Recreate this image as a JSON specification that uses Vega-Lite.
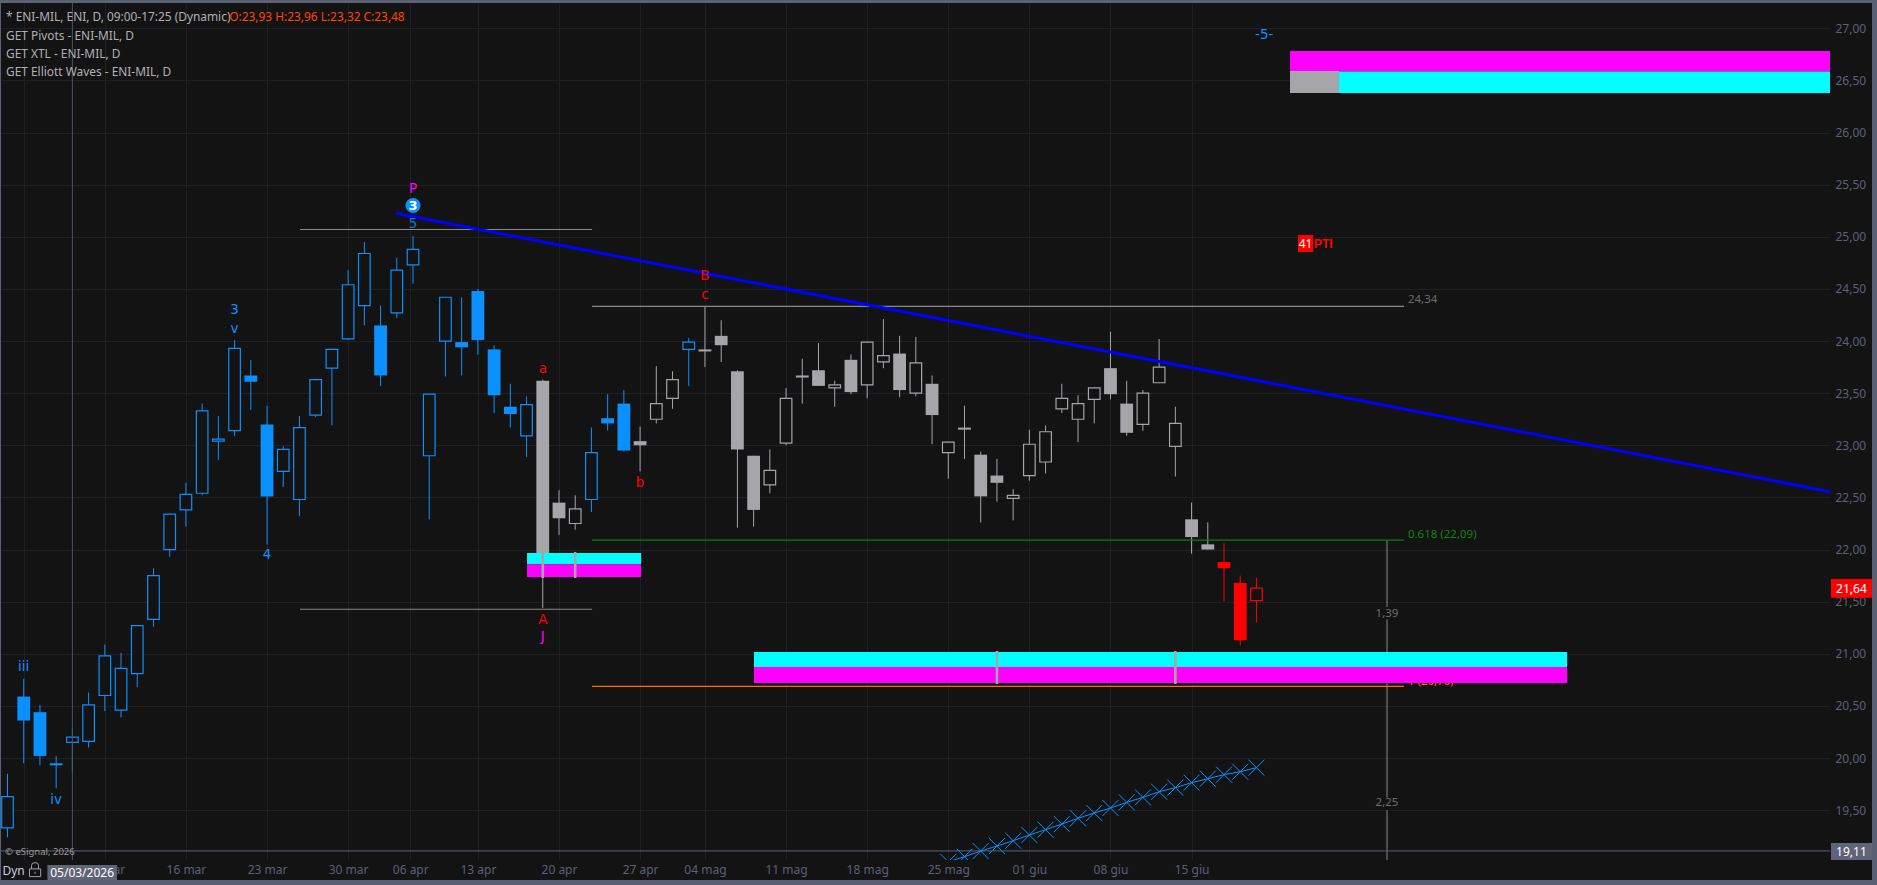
{
"$schema":"https://vega.github.io/schema/vega-lite/v6.json",
"width":1830,"height":857,
"autosize":{"type":"none"},
"padding":{"left":0,"top":3,"right":47,"bottom":25},
"background":"#131313",
"view":{"stroke":null,"fill":"#131313"},
"config":{"text":{"font":"Noto Sans"}},
"resolve":{"scale":{"color":"independent","stroke":"independent"}},
"datasets":{
"candles":[
{"bar":0,"series":"blue","filled":false,"high":19.85,"low":19.24,"top":19.63,"bottom":19.33},
{"bar":1,"series":"blue","filled":true,"high":20.76,"low":19.95,"top":20.59,"bottom":20.36},
{"bar":2,"series":"blue","filled":true,"high":20.51,"low":19.93,"top":20.44,"bottom":20.02},
{"bar":3,"series":"blue","filled":true,"high":20.02,"low":19.71,"top":19.95,"bottom":19.93},
{"bar":4,"series":"blue","filled":false,"high":20.28,"low":19.87,"top":20.20,"bottom":20.15},
{"bar":5,"series":"blue","filled":false,"high":20.63,"low":20.10,"top":20.51,"bottom":20.16},
{"bar":6,"series":"blue","filled":false,"high":21.09,"low":20.45,"top":20.98,"bottom":20.60},
{"bar":7,"series":"blue","filled":false,"high":21.01,"low":20.39,"top":20.86,"bottom":20.46},
{"bar":8,"series":"blue","filled":false,"high":21.27,"low":20.68,"top":21.27,"bottom":20.81},
{"bar":9,"series":"blue","filled":false,"high":21.82,"low":21.26,"top":21.75,"bottom":21.33},
{"bar":10,"series":"blue","filled":false,"high":22.34,"low":21.93,"top":22.34,"bottom":22.00},
{"bar":11,"series":"blue","filled":false,"high":22.64,"low":22.22,"top":22.53,"bottom":22.38},
{"bar":12,"series":"blue","filled":false,"high":23.40,"low":22.52,"top":23.33,"bottom":22.54},
{"bar":13,"series":"blue","filled":false,"high":23.28,"low":22.86,"top":23.06,"bottom":23.04},
{"bar":14,"series":"blue","filled":false,"high":24.01,"low":23.09,"top":23.93,"bottom":23.14},
{"bar":15,"series":"blue","filled":true,"high":23.82,"low":23.34,"top":23.67,"bottom":23.61},
{"bar":16,"series":"blue","filled":true,"high":23.38,"low":22.05,"top":23.20,"bottom":22.51},
{"bar":17,"series":"blue","filled":false,"high":22.99,"low":22.60,"top":22.96,"bottom":22.75},
{"bar":18,"series":"blue","filled":false,"high":23.28,"low":22.32,"top":23.17,"bottom":22.48},
{"bar":19,"series":"blue","filled":false,"high":23.64,"low":23.27,"top":23.63,"bottom":23.29},
{"bar":20,"series":"blue","filled":false,"high":23.92,"low":23.19,"top":23.92,"bottom":23.74},
{"bar":21,"series":"blue","filled":false,"high":24.68,"low":24.01,"top":24.54,"bottom":24.02},
{"bar":22,"series":"blue","filled":false,"high":24.95,"low":24.15,"top":24.84,"bottom":24.34},
{"bar":23,"series":"blue","filled":true,"high":24.34,"low":23.57,"top":24.15,"bottom":23.67},
{"bar":24,"series":"blue","filled":false,"high":24.80,"low":24.22,"top":24.68,"bottom":24.27},
{"bar":25,"series":"blue","filled":false,"high":25.01,"low":24.55,"top":24.88,"bottom":24.73},
{"bar":26,"series":"blue","filled":false,"high":23.49,"low":22.29,"top":23.49,"bottom":22.90},
{"bar":27,"series":"blue","filled":false,"high":24.42,"low":23.66,"top":24.42,"bottom":24.00},
{"bar":28,"series":"blue","filled":true,"high":24.42,"low":23.67,"top":23.99,"bottom":23.94},
{"bar":29,"series":"blue","filled":true,"high":24.50,"low":23.87,"top":24.48,"bottom":24.01},
{"bar":30,"series":"blue","filled":true,"high":23.96,"low":23.31,"top":23.92,"bottom":23.48},
{"bar":31,"series":"blue","filled":true,"high":23.59,"low":23.17,"top":23.37,"bottom":23.30},
{"bar":32,"series":"blue","filled":false,"high":23.47,"low":22.89,"top":23.39,"bottom":23.09},
{"bar":33,"series":"gray","filled":true,"high":23.63,"low":21.44,"top":23.62,"bottom":21.96},
{"bar":34,"series":"gray","filled":true,"high":22.57,"low":22.14,"top":22.45,"bottom":22.30},
{"bar":35,"series":"gray","filled":false,"high":22.52,"low":22.19,"top":22.39,"bottom":22.25},
{"bar":36,"series":"blue","filled":false,"high":23.17,"low":22.36,"top":22.93,"bottom":22.48},
{"bar":37,"series":"blue","filled":true,"high":23.49,"low":23.14,"top":23.26,"bottom":23.21},
{"bar":38,"series":"blue","filled":true,"high":23.53,"low":22.94,"top":23.40,"bottom":22.95},
{"bar":39,"series":"gray","filled":true,"high":23.18,"low":22.75,"top":23.04,"bottom":23.00},
{"bar":40,"series":"gray","filled":false,"high":23.76,"low":23.21,"top":23.40,"bottom":23.25},
{"bar":41,"series":"gray","filled":false,"high":23.71,"low":23.35,"top":23.63,"bottom":23.45},
{"bar":42,"series":"blue","filled":false,"high":24.03,"low":23.57,"top":23.99,"bottom":23.92},
{"bar":43,"series":"gray","filled":true,"high":24.33,"low":23.75,"top":23.92,"bottom":23.90},
{"bar":44,"series":"gray","filled":true,"high":24.20,"low":23.80,"top":24.05,"bottom":23.96},
{"bar":45,"series":"gray","filled":true,"high":23.72,"low":22.21,"top":23.71,"bottom":22.96},
{"bar":46,"series":"gray","filled":true,"high":22.90,"low":22.22,"top":22.90,"bottom":22.38},
{"bar":47,"series":"gray","filled":false,"high":22.96,"low":22.54,"top":22.76,"bottom":22.62},
{"bar":48,"series":"gray","filled":false,"high":23.55,"low":23.00,"top":23.45,"bottom":23.02},
{"bar":49,"series":"gray","filled":true,"high":23.83,"low":23.40,"top":23.67,"bottom":23.65},
{"bar":50,"series":"gray","filled":true,"high":23.98,"low":23.57,"top":23.72,"bottom":23.57},
{"bar":51,"series":"gray","filled":false,"high":23.62,"low":23.37,"top":23.58,"bottom":23.55},
{"bar":52,"series":"gray","filled":true,"high":23.87,"low":23.49,"top":23.82,"bottom":23.51},
{"bar":53,"series":"gray","filled":false,"high":23.99,"low":23.45,"top":23.99,"bottom":23.58},
{"bar":54,"series":"gray","filled":false,"high":24.21,"low":23.74,"top":23.86,"bottom":23.80},
{"bar":55,"series":"gray","filled":true,"high":24.05,"low":23.46,"top":23.88,"bottom":23.53},
{"bar":56,"series":"gray","filled":false,"high":24.04,"low":23.47,"top":23.79,"bottom":23.50},
{"bar":57,"series":"gray","filled":true,"high":23.67,"low":23.01,"top":23.59,"bottom":23.29},
{"bar":58,"series":"gray","filled":false,"high":23.03,"low":22.68,"top":23.03,"bottom":22.93},
{"bar":59,"series":"gray","filled":true,"high":23.38,"low":22.87,"top":23.17,"bottom":23.15},
{"bar":60,"series":"gray","filled":true,"high":22.94,"low":22.26,"top":22.91,"bottom":22.51},
{"bar":61,"series":"gray","filled":true,"high":22.87,"low":22.46,"top":22.71,"bottom":22.64},
{"bar":62,"series":"gray","filled":false,"high":22.58,"low":22.28,"top":22.52,"bottom":22.49},
{"bar":63,"series":"gray","filled":false,"high":23.15,"low":22.66,"top":23.01,"bottom":22.71},
{"bar":64,"series":"gray","filled":false,"high":23.19,"low":22.73,"top":23.13,"bottom":22.84},
{"bar":65,"series":"gray","filled":false,"high":23.59,"low":23.31,"top":23.45,"bottom":23.35},
{"bar":66,"series":"gray","filled":false,"high":23.48,"low":23.03,"top":23.40,"bottom":23.25},
{"bar":67,"series":"gray","filled":false,"high":23.55,"low":23.21,"top":23.55,"bottom":23.44},
{"bar":68,"series":"gray","filled":true,"high":24.09,"low":23.44,"top":23.74,"bottom":23.49},
{"bar":69,"series":"gray","filled":true,"high":23.62,"low":23.09,"top":23.40,"bottom":23.12},
{"bar":70,"series":"gray","filled":false,"high":23.53,"low":23.14,"top":23.50,"bottom":23.20},
{"bar":71,"series":"gray","filled":false,"high":24.02,"low":23.60,"top":23.75,"bottom":23.60},
{"bar":72,"series":"gray","filled":false,"high":23.37,"low":22.70,"top":23.21,"bottom":22.99},
{"bar":73,"series":"gray","filled":true,"high":22.45,"low":21.96,"top":22.29,"bottom":22.12},
{"bar":74,"series":"gray","filled":true,"high":22.26,"low":22.00,"top":22.05,"bottom":22.00},
{"bar":75,"series":"red","filled":true,"high":22.06,"low":21.50,"top":21.88,"bottom":21.82},
{"bar":76,"series":"red","filled":true,"high":21.75,"low":21.08,"top":21.68,"bottom":21.13},
{"bar":77,"series":"red","filled":false,"high":21.73,"low":21.30,"top":21.63,"bottom":21.51}
],
"hlines":[
{"from":-0.4624,"to":112.36,"price":19.11,"kind":"cross"},
{"from":18.03,"to":36.04,"price":25.07,"kind":"pivot"},
{"from":18.03,"to":36.04,"price":21.427,"kind":"pivot"},
{"from":36.04,"to":86.1,"price":24.333,"kind":"pivot"},
{"from":36.04,"to":86.1,"price":22.09,"kind":"green"},
{"from":36.04,"to":86.1,"price":20.688,"kind":"orange"}
],
"vlines":[
{"bar":4,"from":27.2427,"to":19.0221,"kind":"cross"},
{"bar":85.05,"from":22.09,"to":21.45,"kind":"pivot"},
{"bar":85.05,"from":21.33,"to":19.62,"kind":"pivot"},
{"bar":85.05,"from":19.50,"to":19.0221,"kind":"pivot"}
],
"zones":[
{"from":32.03,"to":39.06,"top":21.967,"bottom":21.86,"kind":"cyan"},
{"from":32.03,"to":39.06,"top":21.86,"bottom":21.737,"kind":"magenta"},
{"from":46.02,"to":96.15,"top":21.017,"bottom":20.873,"kind":"cyan"},
{"from":46.02,"to":96.15,"top":20.873,"bottom":20.72,"kind":"magenta"},
{"from":79.07,"to":112.36,"top":26.782,"bottom":26.586,"kind":"magenta"},
{"from":79.07,"to":112.36,"top":26.586,"bottom":26.379,"kind":"cyan"},
{"from":79.07,"to":82.09,"top":26.59,"bottom":26.379,"kind":"gray"}
],
"zoneticks":[
{"bar":33,"top":21.977,"bottom":21.727},
{"bar":35,"top":21.977,"bottom":21.727},
{"bar":61,"top":21.027,"bottom":20.71},
{"bar":72,"top":21.027,"bottom":20.71}
],
"trend":[{"bar":23.95,"price":25.225},{"bar":112.36,"price":22.555}],
"xline":[
{"bar":58,"price":19.005},{"bar":59,"price":19.054},{"bar":60,"price":19.108},{"bar":61,"price":19.156},{"bar":62,"price":19.207},{"bar":63,"price":19.262},{"bar":64,"price":19.313},{"bar":65,"price":19.367},{"bar":66,"price":19.422},{"bar":67,"price":19.473},{"bar":68,"price":19.521},{"bar":69,"price":19.575},{"bar":70,"price":19.623},{"bar":71,"price":19.677},{"bar":72,"price":19.716},{"bar":73,"price":19.764},{"bar":74,"price":19.802},{"bar":75,"price":19.841},{"bar":76,"price":19.869},{"bar":77,"price":19.908}
],
"under":[
{"bar":86.34,"price":24.396,"label":"24,34","kind":"note"},
{"bar":86.34,"price":22.14,"label":"0.618 (22,09)","kind":"green"},
{"bar":86.34,"price":20.732,"label":"1 (20,70)","kind":"orange"}
],
"measure":[
{"bar":85.05,"price":21.38,"label":"1,39"},
{"bar":85.05,"price":19.57,"label":"2,25"}
],
"legend":[
{"bar":-0.09,"price":27.108,"label":"* ENI-MIL, ENI, D, 09:00-17:25 (Dynamic)","kind":"legend"},
{"bar":13.67,"price":27.108,"label":"O:23,93 H:23,96 L:23,32 C:23,48","kind":"ohlc"},
{"bar":-0.09,"price":26.926,"label":"GET Pivots - ENI-MIL, D","kind":"legend"},
{"bar":-0.09,"price":26.753,"label":"GET XTL - ENI-MIL, D","kind":"legend"},
{"bar":-0.09,"price":26.581,"label":"GET Elliott Waves - ENI-MIL, D","kind":"legend"}
],
"waves":[
{"bar":1,"price":20.87,"label":"iii","kind":"blue"},
{"bar":3,"price":19.60,"label":"iv","kind":"blue"},
{"bar":14,"price":24.30,"label":"3","kind":"blue"},
{"bar":14,"price":24.12,"label":"v","kind":"blue"},
{"bar":16,"price":21.945,"label":"4","kind":"blue"},
{"bar":25,"price":25.46,"label":"P","kind":"magenta"},
{"bar":25,"price":25.12,"label":"5","kind":"deep"},
{"bar":33,"price":23.73,"label":"a","kind":"red"},
{"bar":33,"price":21.32,"label":"A","kind":"red"},
{"bar":33,"price":21.16,"label":"J","kind":"magenta"},
{"bar":39,"price":22.64,"label":"b","kind":"red"},
{"bar":43,"price":24.62,"label":"B","kind":"red"},
{"bar":43,"price":24.44,"label":"c","kind":"red"},
{"bar":77.48,"price":26.936,"label":"-5-","kind":"blue"}
],
"chrome":[
{"from":-0.4624,"to":115.3,"top":27.2715,"bottom":27.2427,"kind":"frame"},
{"from":-0.4624,"to":115.3,"top":18.83,"bottom":18.78,"kind":"frame"},
{"from":114.95,"to":115.3,"top":27.2715,"bottom":18.78,"kind":"frame"},
{"from":-0.4624,"to":-0.40,"top":27.2715,"bottom":18.78,"kind":"frame"},
{"from":112.42,"to":114.95,"top":21.717,"bottom":21.538,"kind":"red"},
{"from":112.42,"to":114.95,"top":19.185,"bottom":19.022,"kind":"tag"},
{"from":2.46,"to":6.75,"top":18.975,"bottom":18.83,"kind":"tag"},
{"from":79.56,"to":80.49,"top":25.017,"bottom":24.854,"kind":"red"}
],
"tagtext":[
{"bar":113.68,"price":21.62,"label":"21,64"},
{"bar":113.68,"price":19.10,"label":"19,11"},
{"bar":4.6,"price":18.90,"label":"05/03/2026"},
{"bar":80.03,"price":24.93,"label":"41"}
]
},
"layer":[
{"data":{"name":"candles"},"mark":{"type":"rule","strokeWidth":1},
 "encoding":{
  "x":{"field":"bar","type":"quantitative","scale":{"domain":[-0.4624,112.36],"nice":false,"zero":false,"padding":0},
    "axis":{"orient":"bottom","title":null,"domain":false,"ticks":false,"grid":true,"gridColor":"#1f2025","gridWidth":1,
      "values":[1,6,11,16,21,24.83,29,34,39,43,48,53,58,63,68,73],
      "labelExpr":"{'6':'09 mar','11':'16 mar','16':'23 mar','21':'30 mar','24.83':'06 apr','29':'13 apr','34':'20 apr','39':'27 apr','43':'04 mag','48':'11 mag','53':'18 mag','58':'25 mag','63':'01 giu','68':'08 giu','73':'15 giu'}[datum.value]||''",
      "labelColor":"#5c6074","labelFont":"Noto Sans","labelFontSize":12,"labelPadding":4,"labelOverlap":false,"labelBound":false,"labelFlush":false}},
  "y":{"field":"high","type":"quantitative","scale":{"domain":[19.0221,27.2427],"nice":false,"zero":false,"padding":0},
    "axis":{"orient":"right","title":null,"domain":false,"ticks":false,"grid":true,"gridColor":"#1f2025","gridWidth":1,
      "values":[19.5,20,20.5,21,21.5,22,22.5,23,23.5,24,24.5,25,25.5,26,26.5,27],
      "labelExpr":"replace(format(datum.value,'.2f'),'.',',')",
      "labelColor":"#5c6074","labelFont":"Noto Sans","labelFontSize":12,"labelPadding":5,"labelOverlap":false,"labelBound":false,"labelFlush":false}},
  "y2":{"field":"low"},
  "color":{"field":"series","type":"nominal","legend":null,"scale":{"domain":["blue","gray","red"],"range":["#0a90ff","#a5a5aa","#ff0000"]}}
 }},
{"data":{"name":"candles"},"transform":[{"filter":"!datum.filled"}],
 "mark":{"type":"bar","size":11.6,"fill":"#131313","strokeWidth":1.2,"cornerRadius":0},
 "encoding":{
  "x":{"field":"bar","type":"quantitative"},
  "y":{"field":"top","type":"quantitative"},"y2":{"field":"bottom"},
  "stroke":{"field":"series","type":"nominal","legend":null,"scale":{"domain":["blue","gray","red"],"range":["#0a90ff","#a5a5aa","#ff0000"]}}
 }},
{"data":{"name":"candles"},"transform":[{"filter":"datum.filled"}],
 "mark":{"type":"bar","size":12.8},
 "encoding":{
  "x":{"field":"bar","type":"quantitative"},
  "y":{"field":"top","type":"quantitative"},"y2":{"field":"bottom"},
  "color":{"field":"series","type":"nominal","legend":null,"scale":{"domain":["blue","gray","red"],"range":["#0a90ff","#a5a5aa","#ff0000"]}}
 }},
{"data":{"name":"vlines"},"mark":{"type":"rule","strokeWidth":1},
 "encoding":{"x":{"field":"bar","type":"quantitative"},"y":{"field":"from","type":"quantitative"},"y2":{"field":"to"},
  "stroke":{"field":"kind","type":"nominal","legend":null,"scale":{"domain":["cross","pivot","green","orange"],"range":["#4e5265","#8a8a8a","#0e820e","#ff6a00"]}}}},
{"data":{"name":"hlines"},"mark":{"type":"rule","strokeWidth":1.1},
 "encoding":{"x":{"field":"from","type":"quantitative"},"x2":{"field":"to"},"y":{"field":"price","type":"quantitative"},
  "stroke":{"field":"kind","type":"nominal","legend":null,"scale":{"domain":["cross","pivot","green","orange"],"range":["#4e5265","#8a8a8a","#0e820e","#ff6a00"]}}}},
{"data":{"name":"under"},"mark":{"type":"text","align":"left","baseline":"middle","fontSize":11.5,"font":"Noto Sans"},
 "encoding":{"x":{"field":"bar","type":"quantitative"},"y":{"field":"price","type":"quantitative"},"text":{"field":"label"},
  "color":{"field":"kind","type":"nominal","legend":null,"scale":{"domain":["note","green","orange"],"range":["#6e6e6e","#0e820e","#ff6a00"]}}}},
{"data":{"name":"measure"},"mark":{"type":"text","align":"center","baseline":"middle","fontSize":11.5,"font":"Noto Sans","color":"#6e6e6e"},
 "encoding":{"x":{"field":"bar","type":"quantitative"},"y":{"field":"price","type":"quantitative"},"text":{"field":"label"}}},
{"data":{"name":"zones"},"mark":{"type":"rect"},
 "encoding":{"x":{"field":"from","type":"quantitative"},"x2":{"field":"to"},"y":{"field":"top","type":"quantitative"},"y2":{"field":"bottom"},
  "color":{"field":"kind","type":"nominal","legend":null,"scale":{"domain":["cyan","magenta","gray"],"range":["#00ffff","#ff00ff","#a5a5aa"]}}}},
{"data":{"name":"zoneticks"},"mark":{"type":"rule","strokeWidth":2.6,"color":"#a5a5aa"},
 "encoding":{"x":{"field":"bar","type":"quantitative"},"y":{"field":"top","type":"quantitative"},"y2":{"field":"bottom"}}},
{"data":{"name":"trend"},"mark":{"type":"line","color":"#0000ff","strokeWidth":3,"clip":true},
 "encoding":{"x":{"field":"bar","type":"quantitative"},"y":{"field":"price","type":"quantitative"}}},
{"data":{"name":"xline"},"mark":{"type":"line","color":"#0a90ff","strokeWidth":1,"clip":true},
 "encoding":{"x":{"field":"bar","type":"quantitative"},"y":{"field":"price","type":"quantitative"}}},
{"data":{"name":"xline"},"mark":{"type":"point","shape":"M-1,-1L1,1M-1,1L1,-1","size":256,"filled":false,"color":"#0a90ff","opacity":1,"strokeWidth":1,"clip":true},
 "encoding":{"x":{"field":"bar","type":"quantitative"},"y":{"field":"price","type":"quantitative"}}},
{"data":{"values":[{"bar":25,"price":25.30,"label":"3"}]},"mark":{"type":"point","shape":"circle","filled":true,"size":227,"color":"#0a90ff","opacity":1},
 "encoding":{"x":{"field":"bar","type":"quantitative"},"y":{"field":"price","type":"quantitative"}}},
{"data":{"values":[{"bar":25,"price":25.30,"label":"3"}]},"mark":{"type":"text","align":"center","baseline":"middle","fontSize":13,"fontWeight":"bold","font":"DejaVu Sans","color":"#ffffff"},
 "encoding":{"x":{"field":"bar","type":"quantitative"},"y":{"field":"price","type":"quantitative"},"text":{"field":"label"}}},
{"data":{"name":"waves"},"mark":{"type":"text","align":"center","baseline":"middle","fontSize":13.5,"font":"DejaVu Sans"},
 "encoding":{"x":{"field":"bar","type":"quantitative"},"y":{"field":"price","type":"quantitative"},"text":{"field":"label"},
  "color":{"field":"kind","type":"nominal","legend":null,"scale":{"domain":["blue","deep","red","magenta"],"range":["#0a90ff","#0a78c8","#ff0000","#ff00ff"]}}}},
{"data":{"name":"legend"},"mark":{"type":"text","align":"left","baseline":"middle","fontSize":11.9,"font":"Noto Sans"},
 "encoding":{"x":{"field":"bar","type":"quantitative"},"y":{"field":"price","type":"quantitative"},"text":{"field":"label"},
  "color":{"field":"kind","type":"nominal","legend":null,"scale":{"domain":["legend","ohlc"],"range":["#b0b0b4","#ff4500"]}}}},
{"data":{"name":"chrome"},"mark":{"type":"rect"},
 "encoding":{"x":{"field":"from","type":"quantitative"},"x2":{"field":"to"},"y":{"field":"top","type":"quantitative"},"y2":{"field":"bottom"},
  "color":{"field":"kind","type":"nominal","legend":null,"scale":{"domain":["frame","tag","red"],"range":["#5c6074","#5f6478","#ff0000"]}}}},
{"data":{"name":"tagtext"},"mark":{"type":"text","align":"center","baseline":"middle","fontSize":12,"font":"Noto Sans","color":"#ffffff"},
 "encoding":{"x":{"field":"bar","type":"quantitative"},"y":{"field":"price","type":"quantitative"},"text":{"field":"label"}}},
{"data":{"values":[{"bar":80.55,"price":24.93,"label":"PTI"}]},"mark":{"type":"text","align":"left","baseline":"middle","fontSize":12,"fontWeight":"bold","font":"Liberation Sans","color":"#ff0000"},
 "encoding":{"x":{"field":"bar","type":"quantitative"},"y":{"field":"price","type":"quantitative"},"text":{"field":"label"}}},
{"data":{"values":[{"bar":-0.15,"price":19.10,"label":"© eSignal, 2026"}]},"mark":{"type":"text","align":"left","baseline":"middle","fontSize":9.5,"font":"Noto Sans","color":"#9a9a9a"},
 "encoding":{"x":{"field":"bar","type":"quantitative"},"y":{"field":"price","type":"quantitative"},"text":{"field":"label"}}},
{"data":{"values":[{"bar":-0.31,"price":18.92,"label":"Dyn"}]},"mark":{"type":"text","align":"left","baseline":"middle","fontSize":12,"font":"Noto Sans","color":"#c8cce0"},
 "encoding":{"x":{"field":"bar","type":"quantitative"},"y":{"field":"price","type":"quantitative"},"text":{"field":"label"}}},
{"data":{"values":[{"bar":1.7,"price":18.93}]},"mark":{"type":"point","shape":"M-0.8,-0.1H0.8V1H-0.8ZM-0.5,-0.1V-0.6Q-0.5,-1 0,-1Q0.5,-1 0.5,-0.6V-0.1M0,0.3V0.6","size":196,"filled":false,"color":"#a0a2ae","opacity":1,"strokeWidth":1},
 "encoding":{"x":{"field":"bar","type":"quantitative"},"y":{"field":"price","type":"quantitative"}}}
]
}
